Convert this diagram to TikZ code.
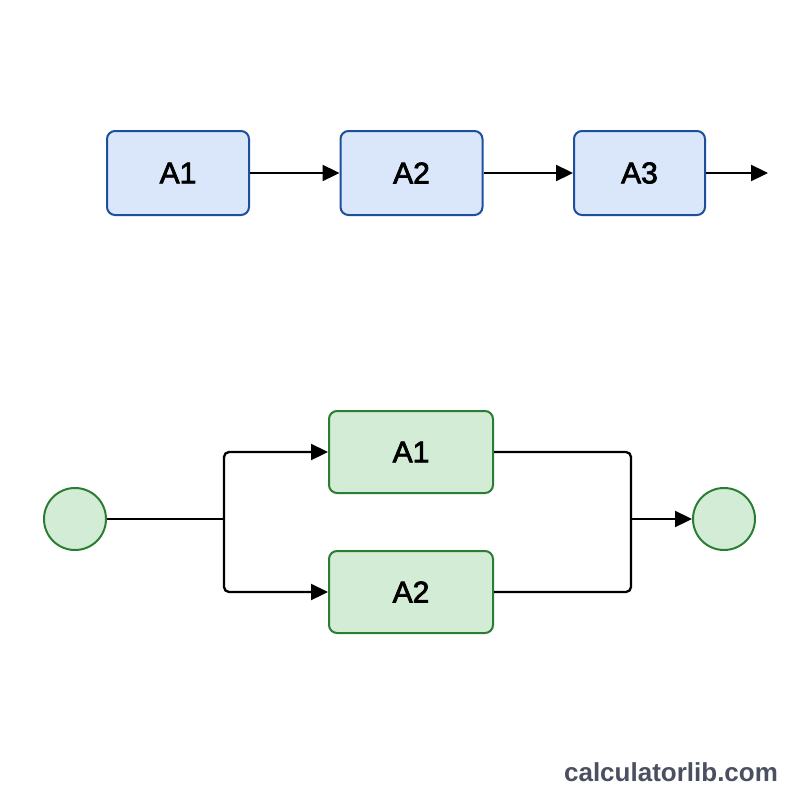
\documentclass[tikz,border=0pt]{standalone}
\usepackage{fontspec}
\setmainfont{Liberation Sans}
\newfontfamily\boxfont{Liberation Sans}[FakeBold=2.5]
\usetikzlibrary{arrows.meta}
\definecolor{bfill}{HTML}{DAE7FB}
\definecolor{bdraw}{HTML}{1E4F9C}
\definecolor{gfill}{HTML}{D3ECD6}
\definecolor{gdraw}{HTML}{2C7D34}
\definecolor{wm}{HTML}{4A5060}
\tikzset{
  bluebox/.style={draw=bdraw, fill=bfill, line width=2pt, rounded corners=8pt, minimum width=142pt, minimum height=84pt, font=\boxfont\fontsize{30}{32}\selectfont, text=black},
  greenbox/.style={draw=gdraw, fill=gfill, line width=2pt, rounded corners=8pt, minimum width=164pt, minimum height=82pt, font=\boxfont\fontsize{30}{32}\selectfont, text=black},
  greencirc/.style={draw=gdraw, fill=gfill, line width=2pt, circle, minimum size=62pt, inner sep=0pt},
  arr/.style={line width=2.3pt, -{Triangle[length=17pt,width=16pt]}},
  ln/.style={line width=2.3pt, rounded corners=5pt}
}
\begin{document}
\begin{tikzpicture}[x=1pt,y=-1pt]
\useasboundingbox (0,0) rectangle (800,800);
\fill[white] (0,0) rectangle (800,800);
% top chain
\node[bluebox] (a1) at (178,173) {A1};
\node[bluebox] (a2) at (411.5,173) {A2};
\node[bluebox, minimum width=131pt] (a3) at (639.5,173) {A3};
\coordinate (end) at (768,173);
\draw[arr] (a1.east) -- (a2.west);
\draw[arr] (a2.east) -- (a3.west);
\draw[arr] (a3.east) -- (end);
% bottom parallel
\node[greencirc] (c1) at (75,519) {};
\node[greencirc] (c2) at (724,519) {};
\node[greenbox] (g1) at (411,452) {A1};
\node[greenbox] (g2) at (411,592) {A2};
\coordinate (split) at (224,519);
\coordinate (merge) at (631,519);
\draw[ln] (c1.east) -- (split);
\draw[ln, arr] (split) |- (g1.west);
\draw[ln, arr] (split) |- (g2.west);
\draw[ln] (g1.east) -| (merge);
\draw[ln] (g2.east) -| (merge);
\draw[arr] (merge) -- (c2.west);
% watermark
\node[font=\bfseries\fontsize{26}{28}\selectfont, text=wm] (wmk) at (671,772) {calculatorlib.com};
\end{tikzpicture}
\end{document}
